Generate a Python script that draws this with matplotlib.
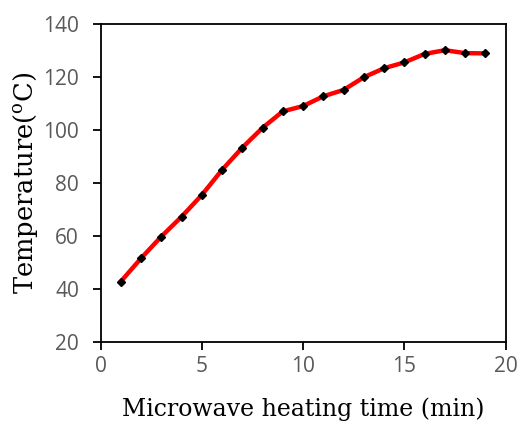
import matplotlib
matplotlib.use("Agg")
import matplotlib.pyplot as plt

time_min = [1, 2, 3, 4, 5, 6, 7, 8, 9, 10, 11, 12, 13, 14, 15, 16, 17, 18, 19]
temperature = [42.7, 51.5, 59.7, 67.2, 75.4, 84.9, 93.3, 100.8, 107.0, 109.0,
               112.7, 115.1, 119.9, 123.3, 125.5, 128.7, 130.1, 129.0, 128.9]
x_ticks = [0, 5, 10, 15, 20]
y_ticks = [20, 40, 60, 80, 100, 120, 140]

plt.rcParams['mathtext.fontset'] = 'custom'
plt.rcParams['mathtext.rm'] = 'DejaVu Serif'

fig = plt.figure(figsize=(5.21, 4.26), dpi=100)
ax = fig.add_axes([100.5/521, (426-341.7)/426, (505.7-100.5)/521, (341.7-24)/426])

ax.plot(time_min, temperature, color='#ff0000', linewidth=3.2, zorder=2)
ax.plot(time_min, temperature, linestyle='none', marker='D', markersize=4.5,
        color='black', zorder=3)

ax.set_xlim(0, 20)
ax.set_ylim(20, 140)
ax.set_xticks(x_ticks)
ax.set_yticks(y_ticks)

for s in ax.spines.values():
    s.set_linewidth(1.3)
    s.set_color('black')

ax.tick_params(axis='both', direction='out', length=5.5, width=1.3,
               labelsize=15, labelcolor='#595959')
ax.tick_params(axis='y', pad=10)
ax.tick_params(axis='x', pad=5)
for lab in ax.get_xticklabels() + ax.get_yticklabels():
    lab.set_fontfamily('Open Sans')

ax.set_xlabel('Microwave heating time (min)', fontsize=17, family='DejaVu Serif')
ax.set_ylabel(r'Temperature($\mathrm{^{o}}$C)', fontsize=18.5, family='DejaVu Serif')
ax.xaxis.set_label_coords(0.5, -0.175)
ax.yaxis.set_label_coords(-0.15, 0.5)

fig.savefig('out.png', dpi=100)
